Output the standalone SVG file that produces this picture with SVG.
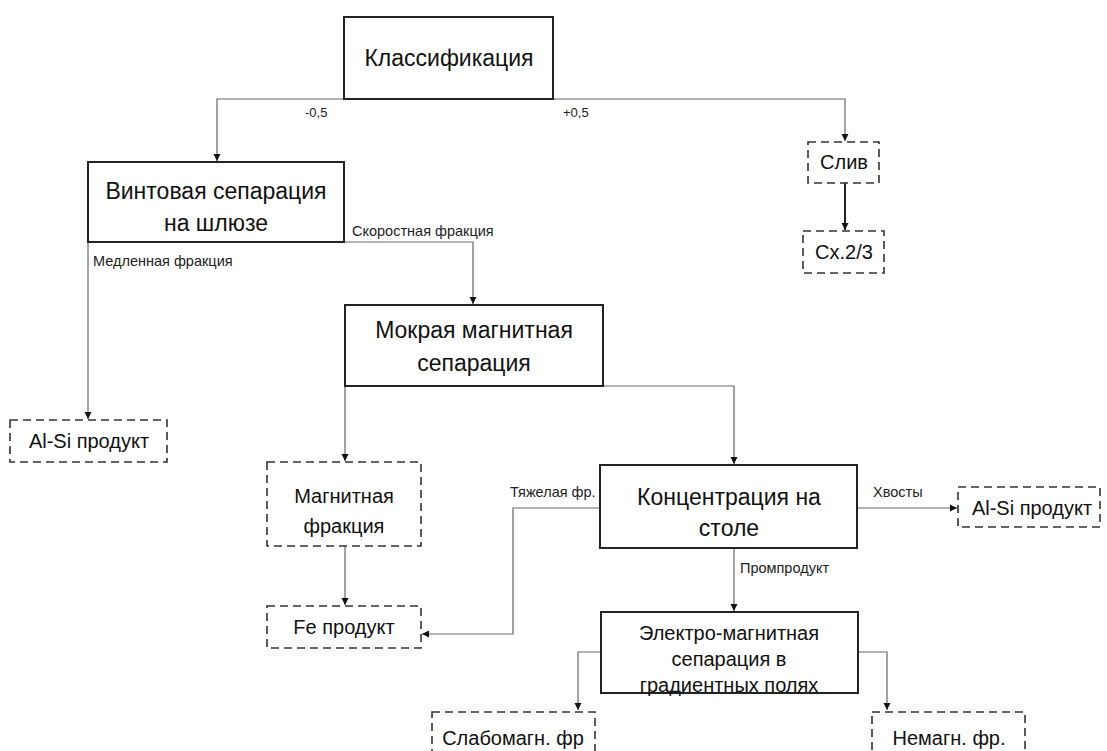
<svg xmlns="http://www.w3.org/2000/svg" width="1107" height="751" viewBox="0 0 1107 751">
<style>
.box{fill:#fff;stroke:#222;stroke-width:2}
.dbox{fill:#fff;stroke:#333;stroke-width:1.6;stroke-dasharray:8 5}
.t{font-family:"Liberation Sans",Arial,sans-serif;fill:#111;text-anchor:middle}
.big{font-size:23px}
.mid{font-size:20px}
.lbl{font-family:"Liberation Sans",Arial,sans-serif;font-size:14.5px;fill:#222}
.c{fill:none;stroke:#666;stroke-width:1.2;marker-end:url(#a)}
</style>
<defs>
<marker id="a" markerWidth="8" markerHeight="8" refX="7" refY="4" orient="auto" markerUnits="userSpaceOnUse">
<path d="M0,0.5 L7,4 L0,7.5 Z" fill="#111"/>
</marker>
</defs>
<rect width="1107" height="751" fill="#fff"/>
<g id="connectors">
<path class="c" d="M344,99 H217 V161"/>
<path class="c" d="M553,99 H845 V141"/>
<path class="c" d="M845,183 V230" style="stroke:#222;stroke-width:2"/>
<path class="c" d="M344,242 H473 V304"/>
<path class="c" d="M88,242 V419"/>
<path class="c" d="M345,386 V461"/>
<path class="c" d="M603,386 H734 V464"/>
<path class="c" d="M345,546 V605"/>
<path class="c" d="M600,508 H513 V634 H422"/>
<path class="c" d="M857,508 H957"/>
<path class="c" d="M734,548 V611"/>
<path class="c" d="M601,652 H578 V710"/>
<path class="c" d="M858,652 H887 V710"/>
<text class="lbl" x="305" y="117" style="font-size:13px">-0,5</text>
<text class="lbl" x="563" y="117" style="font-size:13px">+0,5</text>
<text class="lbl" x="352" y="236">Скоростная фракция</text>
<text class="lbl" x="93" y="266">Медленная фракция</text>
<text class="lbl" x="510" y="497">Тяжелая фр.</text>
<text class="lbl" x="873" y="497">Хвосты</text>
<text class="lbl" x="740" y="573">Промпродукт</text>
</g>
<g id="n-klass"><rect class="box" x="344" y="17" width="209" height="82"/><text class="t big" x="449" y="66">Классификация</text></g>
<g id="n-vint"><rect class="box" x="88" y="162" width="256" height="80"/><text class="t big" x="216" y="199">Винтовая сепарация</text><text class="t big" x="216" y="231">на шлюзе</text></g>
<g id="n-sliv"><rect class="dbox" x="808" y="142" width="71" height="41"/><text class="t mid" x="844" y="169">Слив</text></g>
<g id="n-cx"><rect class="dbox" x="803" y="231" width="81" height="42"/><text class="t mid" x="844" y="259">Сх.2/3</text></g>
<g id="n-alsi1"><rect class="dbox" x="10" y="420" width="157" height="42"/><text class="t mid" x="89" y="448">Al-Si продукт</text></g>
<g id="n-mokr"><rect class="box" x="345" y="305" width="258" height="81"/><text class="t big" x="474" y="338">Мокрая магнитная</text><text class="t big" x="474" y="371">сепарация</text></g>
<g id="n-magn"><rect class="dbox" x="267" y="462" width="154" height="84"/><text class="t mid" x="344" y="503">Магнитная</text><text class="t mid" x="344" y="533">фракция</text></g>
<g id="n-konc"><rect class="box" x="600" y="465" width="257" height="83"/><text class="t big" x="729" y="505">Концентрация на</text><text class="t big" x="729" y="536">столе</text></g>
<g id="n-alsi2"><rect class="dbox" x="958" y="487" width="142" height="40"/><text class="t mid" x="1032" y="515">Al-Si продукт</text></g>
<g id="n-fe"><rect class="dbox" x="267" y="606" width="154" height="42"/><text class="t mid" x="344" y="634">Fe продукт</text></g>
<g id="n-elektro"><rect class="box" x="601" y="612" width="257" height="81"/><text class="t mid" x="729" y="640">Электро-магнитная</text><text class="t mid" x="729" y="666">сепарация в</text><text class="t mid" x="729" y="692">градиентных полях</text></g>
<g id="n-slabo"><rect class="dbox" x="432" y="712" width="163" height="48"/><text class="t mid" x="513" y="745">Слабомагн. фр</text></g>
<g id="n-nemagn"><rect class="dbox" x="872" y="712" width="153" height="48"/><text class="t mid" x="949" y="745">Немагн. фр.</text></g>
</svg>
